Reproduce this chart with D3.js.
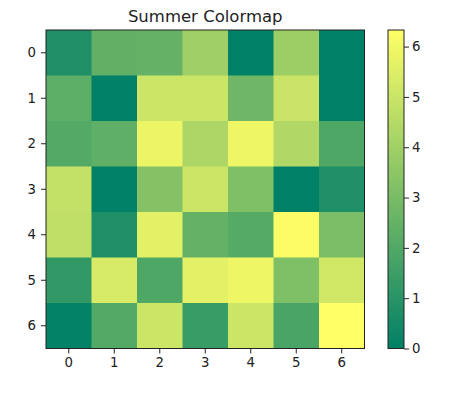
<!DOCTYPE html>
<html lang="en">
	<head>
		<meta charset="utf-8">
		<title>Summer Colormap</title>
		<script src="https://cdn.jsdelivr.net/npm/d3@7"></script>
		<style>
			body { margin: 0; background: #fff; }
			text { font-family: "DejaVu Sans", sans-serif; fill: #222; }
		</style>
	</head>
	<body>
		<script>
			// rows / columns of the matrix
			var rowLabels = [0, 1, 2, 3, 4, 5, 6];
			var colLabels = [0, 1, 2, 3, 4, 5, 6];

			// cell values (row by row)
			var row0 = [0.75, 2.40, 2.50, 3.95, 0.00, 3.90, 0.00];
			var row1 = [2.30, 0.00, 5.05, 5.05, 2.75, 5.00, 0.00];
			var row2 = [2.05, 2.35, 5.85, 4.30, 5.90, 4.40, 1.95];
			var row3 = [4.85, 0.00, 3.30, 5.05, 3.15, 0.00, 0.75];
			var row4 = [4.75, 0.75, 5.65, 2.50, 2.10, 6.25, 3.05];
			var row5 = [1.25, 5.35, 1.95, 5.65, 5.90, 3.15, 5.20];
			var row6 = [0.10, 2.05, 5.05, 1.40, 5.05, 1.80, 6.33];
			var rows = [row0, row1, row2, row3, row4, row5, row6];

			var cbarTicks = [0, 1, 2, 3, 4, 5, 6];

			var w = 450, h = 399;
			var padLeft = 46, padTop = 30, size = 318.5;
			var cbX = 388, cbW = 16;

			var cells = [];
			rows.forEach(function(r, i) {
				r.forEach(function(v, j) { cells.push({row: i, col: j, value: v}); });
			});
			var vmin = d3.min(cells, function(d) { return d.value; });
			var vmax = d3.max(cells, function(d) { return d.value; });

			// matplotlib "summer": (t, 0.5 + t/2, 0.4)
			function summer(t) {
				return d3.rgb(255 * t, 255 * (0.5 + t / 2), 102);
			}
			var norm = d3.scaleLinear().domain([vmin, vmax]).range([0, 1]).clamp(true);

			var svg = d3.select("body").append("svg")
				.attr("width", w)
				.attr("height", h);

			var xScale = d3.scaleBand().domain(colLabels).range([padLeft, padLeft + size]);
			var yScale = d3.scaleBand().domain(rowLabels).range([padTop, padTop + size]);

			svg.selectAll("rect.cell")
				.data(cells)
				.enter()
				.append("rect")
				.attr("class", "cell")
				.attr("x", function(d) { return xScale(d.col); })
				.attr("y", function(d) { return yScale(d.row); })
				.attr("width", xScale.bandwidth() + 0.5)
				.attr("height", yScale.bandwidth() + 0.5)
				.attr("fill", function(d) { return summer(norm(d.value)); });

			svg.append("rect")
				.attr("x", padLeft).attr("y", padTop)
				.attr("width", size).attr("height", size)
				.attr("fill", "none").attr("stroke", "#222").attr("stroke-width", 1);

			var xAxis = svg.append("g")
				.attr("transform", "translate(0," + (padTop + size) + ")")
				.call(d3.axisBottom(xScale).tickSize(5).tickPadding(4));
			var yAxis = svg.append("g")
				.attr("transform", "translate(" + padLeft + ",0)")
				.call(d3.axisLeft(yScale).tickSize(5).tickPadding(5));
			[xAxis, yAxis].forEach(function(g) {
				g.select(".domain").remove();
				g.selectAll("line").attr("stroke", "#222");
				g.selectAll("text").style("font-size", "13.3px").attr("fill", "#222");
			});

			svg.append("text")
				.attr("x", padLeft + size / 2)
				.attr("y", 21.5)
				.attr("text-anchor", "middle")
				.style("font-size", "16.5px")
				.text("Summer Colormap");

			// colorbar
			var grad = svg.append("defs").append("linearGradient")
				.attr("id", "summerGrad")
				.attr("x1", 0).attr("y1", 1).attr("x2", 0).attr("y2", 0);
			d3.range(0, 1.0001, 0.1).forEach(function(t) {
				grad.append("stop").attr("offset", t).attr("stop-color", summer(t));
			});
			svg.append("rect")
				.attr("x", cbX).attr("y", padTop)
				.attr("width", cbW).attr("height", size)
				.attr("fill", "url(#summerGrad)")
				.attr("stroke", "#222").attr("stroke-width", 1);

			var cScale = d3.scaleLinear().domain([vmin, vmax]).range([padTop + size, padTop]);
			var cAxis = svg.append("g")
				.attr("transform", "translate(" + (cbX + cbW) + ",0)")
				.call(d3.axisRight(cScale).tickValues(cbarTicks).tickFormat(d3.format("d")).tickSize(5).tickPadding(3));
			cAxis.select(".domain").remove();
			cAxis.selectAll("line").attr("stroke", "#222");
			cAxis.selectAll("text").style("font-size", "13.3px").attr("fill", "#222");
		</script>
	</body>
</html>
